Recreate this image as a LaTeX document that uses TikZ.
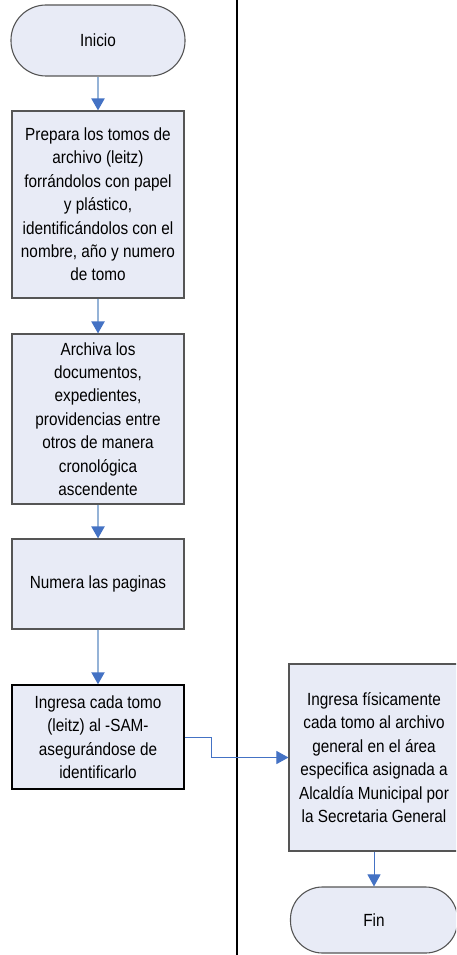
\documentclass[tikz,border=0pt]{standalone}
\usepackage{fontspec}
\setmainfont[FakeStretch=0.87]{Liberation Sans}
\usetikzlibrary{arrows.meta}
\definecolor{boxfill}{HTML}{E8EBF6}
\definecolor{boxline}{HTML}{555555}
\definecolor{arrline}{HTML}{95B3D7}
\definecolor{arrhead}{HTML}{4472C4}
\begin{document}
\begin{tikzpicture}[x=1pt,y=-1pt,
  box/.style={draw=boxline, line width=1.1pt, fill=boxfill, rectangle, inner sep=0pt, align=center, font=\fontsize{17.6}{23.4}\selectfont},
  term/.style={box},
  flow/.style={draw=arrline, line width=2pt, -{Triangle[length=12pt,width=13pt,color=arrhead]}},
  link/.style={draw=arrhead, line width=1pt, -{Triangle[length=12pt,width=13pt,color=arrhead]}}
]
\useasboundingbox (0,0) rectangle (456,955);
\clip (0,0) rectangle (456,955);
\fill[white] (0,0) rectangle (456,955);
\coordinate (septop) at (237,0);
\coordinate (sepbot) at (237,955);
\draw[line width=1.2pt] (septop) -- (sepbot);

\node[term, rounded corners=35pt, minimum width=174pt, minimum height=71pt] (ini) at (98,40.5) {Inicio};
\node[box, minimum width=172pt, minimum height=187pt] (b1) at (98,204.5) {Prepara los tomos de\\archivo (leitz)\\forrándolos con papel\\y plástico,\\identificándolos con el\\nombre, año y numero\\de tomo};
\node[box, minimum width=172pt, minimum height=170pt] (b2) at (98,419) {Archiva los\\documentos,\\expedientes,\\providencias entre\\otros de manera\\cronológica\\ascendente};
\node[box, minimum width=172pt, minimum height=90pt] (b3) at (98,584) {Numera las paginas};
\node[box, draw=black, line width=1.4pt, minimum width=172pt, minimum height=104pt] (b4) at (98,737) {Ingresa cada tomo\\(leitz) al -SAM-\\asegurándose de\\identificarlo};
\node[box, minimum width=170pt, minimum height=187pt] (b5) at (374,757.5) {Ingresa físicamente\\cada tomo al archivo\\general en el área\\especifica  asignada a\\Alcaldía Municipal por\\la Secretaria General};
\node[term, rounded corners=32pt, minimum width=167pt, minimum height=66pt] (fin) at (374,920) {Fin};

\draw[flow] (ini.south) -- (b1.north);
\draw[flow] (b1.south) -- (b2.north);
\draw[flow] (b2.south) -- (b3.north);
\draw[flow] (b3.south) -- (b4.north);
\draw[link] (b4.east) -- ++(27,0) |- (b5.west);
\draw[link] (b5.south) -- (fin.north);
\end{tikzpicture}
\end{document}
